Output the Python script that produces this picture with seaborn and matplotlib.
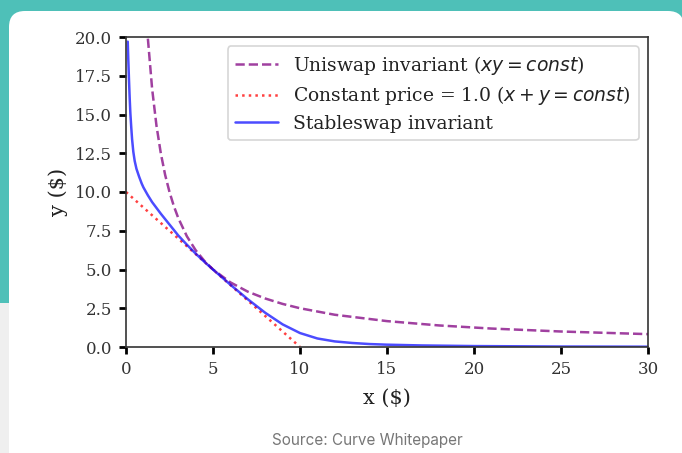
import matplotlib
matplotlib.use("Agg")
import matplotlib.pyplot as plt
import matplotlib.patches as mpatches
from matplotlib.transforms import IdentityTransform
import seaborn as sns
import pandas as pd

# Uniswap invariant (xy = const)
uni_x = [1.0, 1.25, 1.5, 1.75, 2.0, 2.25, 2.5, 2.75, 3.0, 3.5, 4.0, 4.5, 5.0, 6.0,
         7.0, 8.0, 9.0, 10.0, 12.0, 15.0, 18.0, 21.0, 25.0, 30.0]
uni_y = [25.0, 20.0, 16.67, 14.29, 12.5, 11.1, 10.0, 9.09, 8.33, 7.14, 6.25, 5.56,
         5.0, 4.17, 3.57, 3.13, 2.78, 2.5, 2.08, 1.67, 1.39, 1.19, 1.0, 0.83]

# Constant price (x + y = const)
lin_x = [0.0, 10.0]
lin_y = [10.0, 0.0]

# Stableswap invariant
ss_x = [0.1, 0.13, 0.17, 0.21, 0.25, 0.3, 0.35, 0.42, 0.5, 0.6, 0.75, 0.9, 1.0,
        1.25, 1.5, 2.0, 2.5, 3.0, 3.5, 4.0, 4.5, 5.0, 6.0, 7.0, 8.0, 9.0, 10.0,
        11.0, 12.0, 13.0, 14.0, 15.0, 17.0, 20.0, 25.0, 30.0]
ss_y = [19.7, 18.6, 17.3, 16.1, 15.1, 14.2, 13.4, 12.6, 12.0, 11.5, 11.0, 10.55,
        10.3, 9.8, 9.35, 8.6, 7.9, 7.2, 6.6, 6.03, 5.5, 5.0, 4.02, 3.08, 2.21,
        1.46, 0.9, 0.55, 0.36, 0.26, 0.19, 0.15, 0.1, 0.06, 0.03, 0.02]

labels = ["Uniswap invariant ($xy = const$)",
          "Constant price = 1.0 ($x + y = const$)",
          "Stableswap invariant"]

sns.set_style("ticks")
plt.rcParams["font.family"] = ["DejaVu Serif"]

W, H = 682, 453
fig = plt.figure(figsize=(W / 100, H / 100), dpi=100)
fig.patch.set_facecolor("#efefef")

# teal band and white card behind the chart
fig.patches.append(mpatches.Rectangle((0, H - 303), W, 303, facecolor="#4ec0b8",
                                      edgecolor="none",
                                      transform=IdentityTransform(), zorder=-3))
fig.patches.append(mpatches.FancyBboxPatch((9, -40), 675, H - 11 + 40,
                                           boxstyle="round,pad=0,rounding_size=16",
                                           facecolor="white", edgecolor="none",
                                           transform=IdentityTransform(), zorder=-2))

ax = fig.add_axes([126 / W, 1 - 347 / H, (648 - 126) / W, (347 - 37) / H])
ax.set_facecolor("white")

df_uni = pd.DataFrame({"x": uni_x, "y": uni_y})
df_lin = pd.DataFrame({"x": lin_x, "y": lin_y})
df_ss = pd.DataFrame({"x": ss_x, "y": ss_y})

sns.lineplot(data=df_uni, x="x", y="y", ax=ax, color="purple", alpha=0.75,
             linestyle="--", linewidth=1.8, label=labels[0], sort=False)
sns.lineplot(data=df_lin, x="x", y="y", ax=ax, color="red", alpha=0.75,
             linestyle=":", linewidth=1.8, label=labels[1], sort=False)
sns.lineplot(data=df_ss, x="x", y="y", ax=ax, color="blue", alpha=0.7,
             linestyle="-", linewidth=1.8, label=labels[2], sort=False)

ax.set_xlim(0, 30)
ax.set_ylim(0, 20)
ax.set_xticks([0, 5, 10, 15, 20, 25, 30])
ax.set_yticks([0, 2.5, 5, 7.5, 10, 12.5, 15, 17.5, 20])
ax.set_yticklabels(["0.0", "2.5", "5.0", "7.5", "10.0", "12.5", "15.0", "17.5", "20.0"])
ax.tick_params(axis="both", labelsize=12, length=5, width=2, color="black",
               labelcolor="#333333", pad=5)
for s in ax.spines.values():
    s.set_visible(True)
    s.set_color("#333333")
    s.set_linewidth(1.2)

ax.set_xlabel("x ($)", fontsize=15, color="#222222", labelpad=8)
ax.set_ylabel("y ($)", fontsize=15, color="#222222", labelpad=5)

leg = ax.legend(loc="upper right", fontsize=13.5, frameon=True,
                handlelength=2.3, borderaxespad=0.5, labelspacing=0.4)
leg.get_frame().set_edgecolor("#cccccc")
leg.get_frame().set_linewidth(1.2)
for t in leg.get_texts():
    t.set_color("#222222")

fig.text(367 / W, 1 - 440 / H, "Source: Curve Whitepaper", ha="center", va="center",
         fontsize=11, color="#777777", family=["Inter", "DejaVu Sans"])

fig.savefig("out.png", dpi=100)
